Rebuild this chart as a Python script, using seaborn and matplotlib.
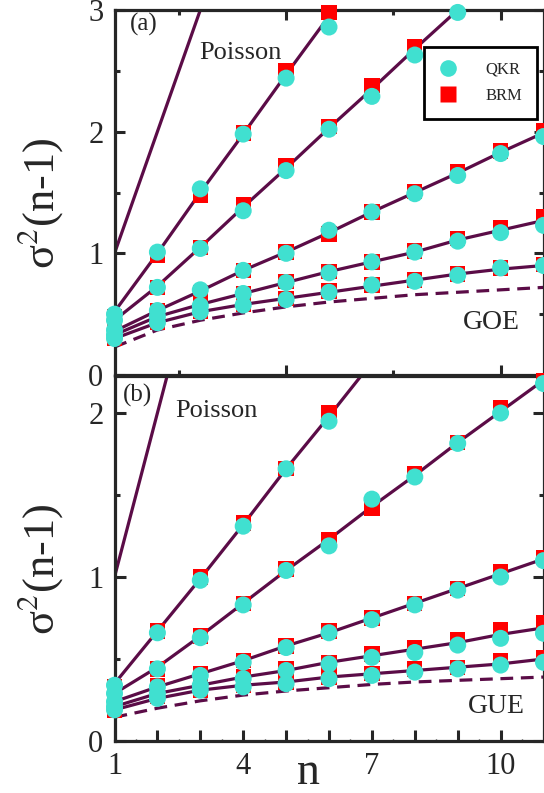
import numpy as np
import pandas as pd
import matplotlib
matplotlib.use("Agg")
import matplotlib.pyplot as plt
import seaborn as sns
from matplotlib.lines import Line2D
from matplotlib.ticker import FixedLocator, FixedFormatter

# ---------------- data ----------------
n_vals = [1, 2, 3, 4, 5, 6, 7, 8, 9, 10, 11]
nan = np.nan

# Panel (a): GOE
a_poisson_n = [1, 2, 3, 4]
a_poisson_v = [1.0, 2.0, 3.0, 4.0]
a_goe = [0.23, 0.37, 0.45, 0.51, 0.56, 0.60, 0.63, 0.66, 0.68, 0.70, 0.72]

a_theory_1 = [0.52, 1.00, 1.50, 1.98, 2.47, 2.95, 3.43, nan, nan, nan, nan]
a_theory_2 = [0.45, 0.73, 1.05, 1.38, 1.70, 2.03, 2.35, 2.68, 3.00, 3.32, nan]
a_theory_3 = [0.36, 0.53, 0.69, 0.86, 1.01, 1.17, 1.34, 1.50, 1.66, 1.83, 1.99]
a_theory_4 = [0.33, 0.48, 0.58, 0.67, 0.76, 0.85, 0.93, 1.01, 1.11, 1.19, 1.27]
a_theory_5 = [0.30, 0.43, 0.52, 0.58, 0.63, 0.68, 0.73, 0.78, 0.83, 0.87, 0.90]

a_qkr_1 = [0.50, 1.01, 1.53, 1.98, 2.44, 2.86, nan, nan, nan, nan, nan]
a_qkr_2 = [0.45, 0.72, 1.04, 1.35, 1.68, 2.02, 2.29, 2.63, 2.98, nan, nan]
a_qkr_3 = [0.37, 0.53, 0.70, 0.86, 1.00, 1.19, 1.34, 1.49, 1.64, 1.82, 1.96]
a_qkr_4 = [0.33, 0.48, 0.57, 0.67, 0.76, 0.84, 0.93, 1.01, 1.10, 1.17, 1.23]
a_qkr_5 = [0.30, 0.43, 0.52, 0.575, 0.62, 0.68, 0.74, 0.77, 0.82, 0.88, 0.90]

a_brm_1 = [0.48, 0.98, 1.48, 1.99, 2.50, 2.98, nan, nan, nan, nan, nan]
a_brm_2 = [0.44, 0.72, 1.05, 1.40, 1.72, 2.04, 2.38, 2.70, nan, nan, nan]
a_brm_3 = [0.36, 0.53, 0.68, 0.86, 1.01, 1.16, 1.34, 1.51, 1.67, 1.84, 2.01]
a_brm_4 = [0.33, 0.48, 0.58, 0.67, 0.77, 0.85, 0.93, 1.02, 1.12, 1.21, 1.30]
a_brm_5 = [0.30, 0.43, 0.52, 0.58, 0.63, 0.69, 0.74, 0.78, 0.83, 0.88, 0.91]

# Panel (b): GUE
b_poisson_n = [1, 2, 3]
b_poisson_v = [1.0, 2.0, 3.0]
b_gue = [0.145, 0.20, 0.245, 0.28, 0.305, 0.325, 0.345, 0.36, 0.37, 0.38, 0.39]

b_theory_1 = [0.35, 0.67, 0.99, 1.32, 1.66, 1.98, 2.31, nan, nan, nan, nan]
b_theory_2 = [0.29, 0.45, 0.64, 0.84, 1.04, 1.23, 1.43, 1.62, 1.82, 2.01, 2.20]
b_theory_3 = [0.24, 0.33, 0.41, 0.49, 0.58, 0.66, 0.75, 0.84, 0.93, 1.02, 1.11]
b_theory_4 = [0.21, 0.29, 0.34, 0.39, 0.43, 0.48, 0.52, 0.56, 0.60, 0.65, 0.69]
b_theory_5 = [0.19, 0.26, 0.31, 0.34, 0.36, 0.39, 0.41, 0.43, 0.45, 0.47, 0.50]

b_qkr_1 = [0.34, 0.66, 0.98, 1.31, 1.66, 1.95, nan, nan, nan, nan, nan]
b_qkr_2 = [0.29, 0.44, 0.63, 0.83, 1.04, 1.19, 1.475, 1.61, 1.815, 2.00, 2.18]
b_qkr_3 = [0.24, 0.33, 0.40, 0.48, 0.57, 0.66, 0.74, 0.83, 0.92, 1.00, 1.10]
b_qkr_4 = [0.21, 0.29, 0.34, 0.38, 0.43, 0.47, 0.51, 0.54, 0.585, 0.626, 0.657]
b_qkr_5 = [0.19, 0.26, 0.31, 0.33, 0.35, 0.38, 0.40, 0.42, 0.44, 0.463, 0.48]

b_brm_1 = [0.33, 0.67, 1.00, 1.33, 1.66, 2.00, nan, nan, nan, nan, nan]
b_brm_2 = [0.29, 0.44, 0.64, 0.84, 1.05, 1.23, 1.42, 1.63, 1.82, 2.03, 2.20]
b_brm_3 = [0.23, 0.34, 0.41, 0.49, 0.58, 0.67, 0.75, 0.84, 0.93, 1.03, 1.12]
b_brm_4 = [0.21, 0.30, 0.35, 0.39, 0.44, 0.48, 0.53, 0.57, 0.615, 0.677, 0.72]
b_brm_5 = [0.19, 0.27, 0.31, 0.34, 0.36, 0.39, 0.41, 0.44, 0.45, 0.49, 0.51]

x_labels_b = ["1", "", "", "4", "", "", "7", "", "", "10", ""]
legend_labels = ["QKR", "BRM"]

# ---------------- style ----------------
sns.set_style("ticks")
plt.rcParams["font.family"] = ["Liberation Serif", "DejaVu Serif"]
plt.rcParams["mathtext.fontset"] = "stix"

LINE_C = "#5b0c47"
QKR_C = "#40e0d0"
BRM_C = "#ff0000"
LW = 2.3


def long_df(series_list):
    rows = []
    for i, s in enumerate(series_list):
        for n, v in zip(n_vals, s):
            if not np.isnan(v):
                rows.append({"series": i, "n": n, "value": v})
    return pd.DataFrame(rows)


fig = plt.figure(figsize=(5.44, 7.93), dpi=100)
W, H = 544.0, 793.0
left = 114.5 / W
width = (543.5 - 114.5) / W
ax_a = fig.add_axes([left, 1 - 375 / H, width, 365 / H])
ax_b = fig.add_axes([left, 1 - 741 / H, width, 365 / H])


def draw_panel(ax, theory, qkr, brm, pois_n, pois_v, rmt):
    dth = long_df(theory)
    sns.lineplot(data=dth, x="n", y="value", units="series", estimator=None,
                 color=LINE_C, lw=LW, ax=ax, legend=False, sort=True)
    dp = pd.DataFrame({"n": pois_n, "value": pois_v})
    sns.lineplot(data=dp, x="n", y="value", color=LINE_C, lw=LW, ax=ax,
                 legend=False)
    dr = pd.DataFrame({"n": n_vals, "value": rmt})
    sns.lineplot(data=dr, x="n", y="value", color=LINE_C, lw=LW, ax=ax,
                 legend=False, linestyle=(0, (4, 2.4)))
    db = long_df(brm)
    sns.scatterplot(data=db, x="n", y="value", marker="s", s=122,
                    color=BRM_C, edgecolor="none", ax=ax, legend=False,
                    clip_on=False, zorder=3)
    dq = long_df(qkr)
    sns.scatterplot(data=dq, x="n", y="value", marker="o", s=150,
                    color=QKR_C, edgecolor="none", ax=ax, legend=False,
                    clip_on=False, zorder=4)
    ax.set_xlabel("")
    ax.set_ylabel("")
    for sp in ax.spines.values():
        sp.set_linewidth(2.3)
        sp.set_visible(True)


draw_panel(ax_a,
           [a_theory_1, a_theory_2, a_theory_3, a_theory_4, a_theory_5],
           [a_qkr_1, a_qkr_2, a_qkr_3, a_qkr_4, a_qkr_5],
           [a_brm_1, a_brm_2, a_brm_3, a_brm_4, a_brm_5],
           a_poisson_n, a_poisson_v, a_goe)
draw_panel(ax_b,
           [b_theory_1, b_theory_2, b_theory_3, b_theory_4, b_theory_5],
           [b_qkr_1, b_qkr_2, b_qkr_3, b_qkr_4, b_qkr_5],
           [b_brm_1, b_brm_2, b_brm_3, b_brm_4, b_brm_5],
           b_poisson_n, b_poisson_v, b_gue)

# panel a axes
ax_a.set_xlim(1, 11)
ax_a.set_ylim(0, 3)
ax_a.xaxis.set_major_locator(FixedLocator([5, 10]))
ax_a.xaxis.set_minor_locator(FixedLocator([2.5, 7.5]))
ax_a.yaxis.set_major_locator(FixedLocator([0, 1, 2, 3]))
ax_a.yaxis.set_minor_locator(FixedLocator([0.5, 1.5, 2.5]))
ax_a.yaxis.set_major_formatter(FixedFormatter(["0", "1", "2", "3"]))
ax_a.tick_params(which="both", direction="in", top=True, right=True,
                 bottom=True, left=True, labelbottom=False, width=2.2)
ax_a.tick_params(which="major", length=7.5, labelsize=22, pad=8)
ax_a.tick_params(which="minor", length=3.8)

# panel b axes
ax_b.set_xlim(1, 11)
ax_b.set_ylim(0, 2.226)
ax_b.xaxis.set_major_locator(FixedLocator(n_vals))
ax_b.xaxis.set_major_formatter(FixedFormatter(x_labels_b))
ax_b.xaxis.set_minor_locator(FixedLocator([v + 0.5 for v in n_vals[:-1]]))
ax_b.yaxis.set_major_locator(FixedLocator([0, 1, 2]))
ax_b.yaxis.set_minor_locator(FixedLocator([0.5, 1.5]))
ax_b.yaxis.set_major_formatter(FixedFormatter(["0", "1", "2"]))
ax_b.tick_params(which="both", direction="in", top=False, right=True,
                 bottom=True, left=True, width=2.2)
ax_b.tick_params(which="major", length=8, labelsize=22, pad=8)
ax_b.tick_params(axis="x", which="minor", length=1.5, width=1)
ax_b.tick_params(axis="y", which="minor", length=3.8)

# labels
ylab = "σ$^{2}$(n-1)"
for ax in (ax_a, ax_b):
    ax.set_ylabel(ylab, fontsize=32)
    ax.yaxis.set_label_coords(-0.115, 0.47)
ax_b.set_xlabel("n", fontsize=33)
ax_b.xaxis.set_label_coords(0.453, -0.03)

# annotations
ax_a.text(1.36, 2.88, "(a)", fontsize=18, ha="left", va="center")
ax_a.text(2.97, 2.65, "Poisson", fontsize=19, ha="left", va="center")
ax_a.text(9.12, 0.43, "GOE", fontsize=20, ha="left", va="center")
ax_b.text(1.2, 2.11, "(b)", fontsize=18, ha="left", va="center")
ax_b.text(2.41, 2.01, "Poisson", fontsize=19, ha="left", va="center")
ax_b.text(9.24, 0.21, "GUE", fontsize=20, ha="left", va="center")

# legend
handles = [
    Line2D([], [], marker="o", ls="none", color=QKR_C, markeredgecolor="none", ms=12),
    Line2D([], [], marker="s", ls="none", color=BRM_C, markeredgecolor="none", ms=11),
]
leg = ax_a.legend(handles, legend_labels, loc="upper right",
                  bbox_to_anchor=(0.9855, 0.899), frameon=True, fancybox=False,
                  edgecolor="black", framealpha=1, fontsize=12,
                  borderpad=0.9, labelspacing=0.6, handlelength=1.1,
                  handletextpad=1.7, borderaxespad=0)
leg.get_frame().set_linewidth(2.0)

fig.savefig("out.png", dpi=100)
